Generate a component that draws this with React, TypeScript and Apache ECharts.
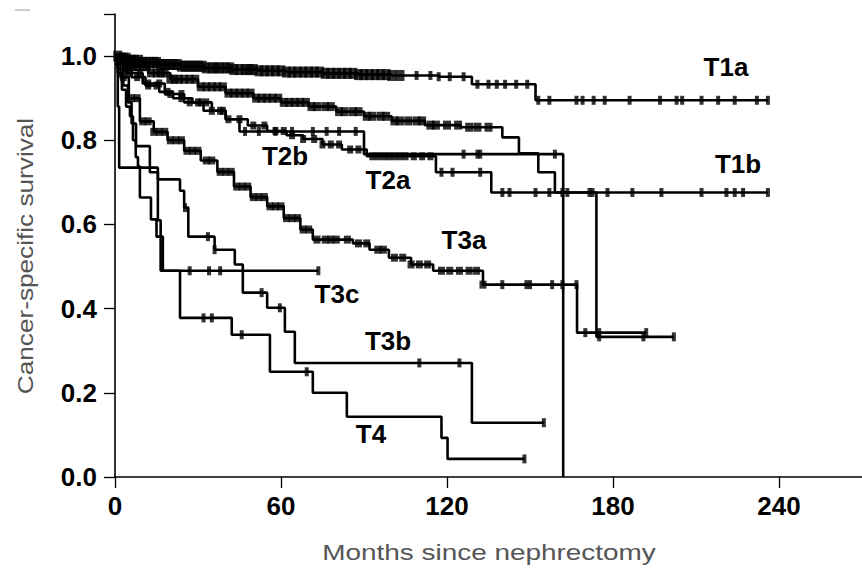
import React, { useEffect, useRef } from "react";
import * as echarts from "echarts";

// ---- Axis ticks ----
const X_TICKS = [0, 60, 120, 180, 240];
const Y_TICKS = [0, 0.2, 0.4, 0.6, 0.8, 1.0];
const Y_TICK_MARKS = [0, 0.2, 0.4, 0.6, 0.8, 1.0, 1.1];

// ---- Kaplan-Meier curves (months, survival) ----
const t1aTimes = [0, 2, 5, 10, 16, 24, 32, 42, 52, 62, 75, 88, 100, 117, 129, 152];
const t1aSurv = [1.0, 0.995, 0.99, 0.985, 0.98, 0.976, 0.972, 0.968, 0.965, 0.962, 0.959, 0.956, 0.954, 0.951, 0.933, 0.895];
const t1aEnd = 236;
const t1aCensor = [1, 2, 3, 4, 5, 6, 7, 8.5, 10, 11, 12.5, 14, 15, 16.5, 18, 19.5, 21, 22.5, 24, 25.5, 27, 28.5, 30, 31.5, 33, 35, 36.5, 38, 40, 41.5, 43, 45, 47, 48.5, 50, 52, 54, 56, 58, 60, 62, 64, 66, 68, 70, 72, 74, 76, 78, 80, 82, 84, 86, 88, 90, 92, 94, 96, 98, 100, 103, 109, 114, 117, 121, 126, 131, 135, 138, 141, 145, 149, 153, 157, 166.8, 169, 173, 177, 186, 197, 203, 205, 212, 218, 224, 232, 236];

const t1bTimes = [0, 5, 12, 20, 30, 40, 50, 60, 70, 80, 90, 100, 112, 125, 140, 146, 153, 159];
const t1bSurv = [0.99, 0.975, 0.96, 0.945, 0.927, 0.912, 0.9, 0.89, 0.88, 0.868, 0.857, 0.846, 0.836, 0.831, 0.807, 0.769, 0.724, 0.676];
const t1bEnd = 236;
const t1bCensor = [2, 3.5, 5, 6.5, 8, 10, 11.5, 13, 15, 16.5, 18, 20, 21.5, 23, 25, 27, 29, 31, 33, 35, 37, 39, 41, 43, 45, 47, 49, 51, 53, 55, 57, 59, 61, 63, 65, 67, 69, 71, 73, 76, 78, 81, 83, 86, 88, 91, 93, 96, 98, 101, 103, 106, 109, 111, 114, 116, 120, 124, 128, 131, 135, 161.7, 163.5, 171.5, 172.6, 178, 187, 197.5, 212, 221, 224, 227, 236];

const t2aTimes = [0, 4, 10, 18, 25, 32, 40, 48, 55, 62, 68, 75, 82, 91, 116, 136, 174];
const t2aSurv = [0.99, 0.96, 0.935, 0.91, 0.89, 0.87, 0.85, 0.835, 0.822, 0.812, 0.803, 0.79, 0.778, 0.762, 0.724, 0.676, 0.333];
const t2aEnd = 202;
const t2aCensor = [5, 9, 12, 16, 20, 24, 27, 31, 35, 39, 45, 50, 54, 58, 61, 64, 68, 72, 75, 78, 81, 85, 88, 93, 95, 97, 99, 101, 103, 105, 108, 111, 114, 118, 122, 132, 140, 142.6, 152, 157, 175, 191, 202];

const t2bTimes = [0, 3, 6, 11, 16, 21, 28, 35, 40, 45, 90, 162];
const t2bSurv = [0.99, 0.97, 0.95, 0.93, 0.915, 0.9, 0.89, 0.87, 0.85, 0.821, 0.767, 0.0];
const t2bEnd = 162;
const t2bCensor = [4, 8, 12, 15, 19, 24, 30, 33, 38, 41, 47, 52, 58, 64, 71.5, 76.5, 81, 87, 126, 131, 132, 159];

const t3aTimes = [0, 2, 5, 9, 14, 19, 25, 31, 37, 43, 49, 55, 61, 67, 71.5, 86, 92, 99, 107, 115, 133, 167];
const t3aSurv = [0.98, 0.95, 0.9, 0.845, 0.82, 0.8, 0.775, 0.752, 0.725, 0.69, 0.665, 0.643, 0.615, 0.588, 0.564, 0.555, 0.54, 0.521, 0.505, 0.49, 0.457, 0.343];
const t3aEnd = 192;
const t3aCensor = [3, 6, 8, 10, 12, 14, 16, 18, 20, 22, 24, 26, 28, 30, 33, 35, 38, 40, 42, 44, 46, 48, 50, 52, 54, 56, 58, 60, 62, 64, 66, 68, 70, 73, 76, 78, 80, 84, 88, 91, 95, 97, 101, 104, 107, 110, 113, 118, 121, 124.5, 128, 130.7, 133, 140, 148.7, 150, 158, 161.7, 166.8, 170, 175, 192];

const t3bTimes = [0, 1, 3, 4.7, 6, 7.6, 12.6, 15.5, 23.5, 25, 26.5, 36, 43.3, 46.2, 55, 61.4, 65, 129];
const t3bSurv = [1.0, 0.97, 0.93, 0.89, 0.84, 0.786, 0.724, 0.707, 0.68, 0.64, 0.571, 0.54, 0.505, 0.438, 0.402, 0.345, 0.271, 0.129];
const t3bEnd = 155;
const t3bCensor = [25.3, 33.6, 36, 53, 59.6, 110, 124.5, 155];

const t3cTimes = [0, 1, 1.5, 15.5, 16.5];
const t3cSurv = [1.0, 0.88, 0.735, 0.61, 0.49];
const t3cEnd = 73.5;
const t3cCensor = [27, 34, 38, 73.5];

const t4Times = [0, 1, 2.5, 4, 5.4, 6.5, 7.5, 8.3, 9, 13, 15, 17.3, 23.5, 42.2, 56, 71.5, 83.8, 118, 120.2];
const t4Surv = [1.0, 0.96, 0.92, 0.88, 0.857, 0.8, 0.76, 0.738, 0.664, 0.612, 0.571, 0.49, 0.378, 0.338, 0.25, 0.2, 0.143, 0.093, 0.043];
const t4End = 148;
const t4Censor = [32, 35, 45.8, 69.3, 148];

const CURVES = [
  { name: "T1a", times: t1aTimes, surv: t1aSurv, end: t1aEnd, censor: t1aCensor },
  { name: "T1b", times: t1bTimes, surv: t1bSurv, end: t1bEnd, censor: t1bCensor },
  { name: "T2a", times: t2aTimes, surv: t2aSurv, end: t2aEnd, censor: t2aCensor },
  { name: "T2b", times: t2bTimes, surv: t2bSurv, end: t2bEnd, censor: t2bCensor },
  { name: "T3a", times: t3aTimes, surv: t3aSurv, end: t3aEnd, censor: t3aCensor },
  { name: "T3b", times: t3bTimes, surv: t3bSurv, end: t3bEnd, censor: t3bCensor },
  { name: "T3c", times: t3cTimes, surv: t3cSurv, end: t3cEnd, censor: t3cCensor },
  { name: "T4", times: t4Times, surv: t4Surv, end: t4End, censor: t4Censor },
];

// style only: how heavy the censor ticks look where they crowd together
const MARK_STYLE: Record<string, { until: number; dense: number[]; sparse: number[] }> = {
  T1a: { until: 104, dense: [9, 11], sparse: [4, 9] },
  T1b: { until: 136, dense: [8, 9], sparse: [4, 9] },
  T2a: { until: 116, dense: [6, 8], sparse: [4, 9] },
  T2b: { until: 45, dense: [6, 8], sparse: [4, 9] },
  T3a: { until: 134, dense: [7, 8], sparse: [4, 9] },
  T3b: { until: 0, dense: [4, 9], sparse: [4, 9] },
  T3c: { until: 0, dense: [4, 9], sparse: [4, 9] },
  T4: { until: 0, dense: [4, 9], sparse: [4, 9] },
};

function survAt(times: number[], surv: number[], t: number): number {
  let v = surv[0];
  for (let i = 0; i < times.length; i++) {
    if (times[i] <= t) v = surv[i];
  }
  return v;
}

const LABEL_FONT = "Liberation Sans, Arial, Helvetica, sans-serif";

export default function App() {
  const ref = useRef<HTMLDivElement>(null);
  useEffect(() => {
    if (!ref.current) return;
    const chart = echarts.init(ref.current, undefined, { renderer: "svg" });
    const series: any[] = [];
    CURVES.forEach((c) => {
      const data = c.times.map((t, i) => [t, c.surv[i]]);
      data.push([c.end, c.surv[c.surv.length - 1]]);
      series.push({
        name: c.name,
        type: "line",
        step: "end",
        data,
        showSymbol: false,
        lineStyle: { color: "#000", width: 2.6 },
        z: 3,
      });
      const ms = MARK_STYLE[c.name];
      series.push({
        name: c.name + " censored",
        type: "scatter",
        data: c.censor.map((t) => [t, survAt(c.times, c.surv, t)]),
        symbol: "rect",
        symbolSize: (v: number[]) => (v[0] < ms.until ? ms.dense : ms.sparse),
        itemStyle: { color: "#000" },
        z: 4,
      });
    });

    const labelStyle = (text: string) => ({
      text,
      fontFamily: LABEL_FONT,
      fontWeight: "bold",
      fontSize: 26,
      fill: "#000",
      textAlign: "center",
      textVerticalAlign: "middle",
    });

    chart.setOption({
      animation: false,
      backgroundColor: "#fff",
      grid: { left: 115, right: 0, top: 14, bottom: 92, outerBoundsMode: "none", containLabel: false },
      xAxis: {
        type: "value",
        min: 0,
        max: 270,
        interval: 60,
        splitLine: { show: false },
        axisLine: { show: true, onZero: false, lineStyle: { color: "#000", width: 1.6 } },
        axisTick: { show: true, length: 11, customValues: X_TICKS, lineStyle: { color: "#000", width: 1.3 } },
        axisLabel: {
          customValues: X_TICKS,
          margin: 16,
          fontFamily: LABEL_FONT,
          fontWeight: "bold",
          fontSize: 26,
          color: "#000",
        },
      },
      yAxis: {
        type: "value",
        min: 0,
        max: 1.1,
        interval: 0.2,
        splitLine: { show: false },
        axisLine: { show: true, onZero: false, lineStyle: { color: "#000", width: 1.6 } },
        axisTick: { show: true, length: 11, customValues: Y_TICK_MARKS, lineStyle: { color: "#000", width: 1.3 } },
        axisLabel: {
          customValues: Y_TICKS,
          margin: 18,
          fontFamily: LABEL_FONT,
          fontWeight: "bold",
          fontSize: 26,
          color: "#000",
          formatter: (v: number) => v.toFixed(1),
        },
      },
      series,
      graphic: [
        { type: "line", shape: { x1: 15, y1: 10, x2: 30, y2: 10 }, style: { stroke: "#999", lineWidth: 1 } },
        { type: "text", x: 726, y: 67, style: labelStyle("T1a") },
        { type: "text", x: 738, y: 164, style: labelStyle("T1b") },
        { type: "text", x: 285, y: 156, style: labelStyle("T2b") },
        { type: "text", x: 388, y: 180, style: labelStyle("T2a") },
        { type: "text", x: 464, y: 240, style: labelStyle("T3a") },
        { type: "text", x: 337, y: 294, style: labelStyle("T3c") },
        { type: "text", x: 388, y: 341, style: labelStyle("T3b") },
        { type: "text", x: 371, y: 434, style: labelStyle("T4") },
        {
          type: "text",
          x: 489,
          y: 552,
          scaleX: 1.27,
          style: {
            text: "Months since nephrectomy",
            fontFamily: LABEL_FONT,
            fontSize: 22,
            fill: "#555",
            textAlign: "center",
            textVerticalAlign: "middle",
          },
        },
        {
          type: "text",
          x: 25,
          y: 256,
          rotation: Math.PI / 2,
          scaleX: 1.19,
          style: {
            text: "Cancer-specific survival",
            fontFamily: LABEL_FONT,
            fontSize: 22,
            fill: "#555",
            textAlign: "center",
            textVerticalAlign: "middle",
          },
        },
      ],
    });
    return () => chart.dispose();
  }, []);
  return (
    <div
      ref={ref}
      style={{ position: "fixed", left: 0, top: 0, width: 862, height: 569, background: "#fff" }}
    />
  );
}
